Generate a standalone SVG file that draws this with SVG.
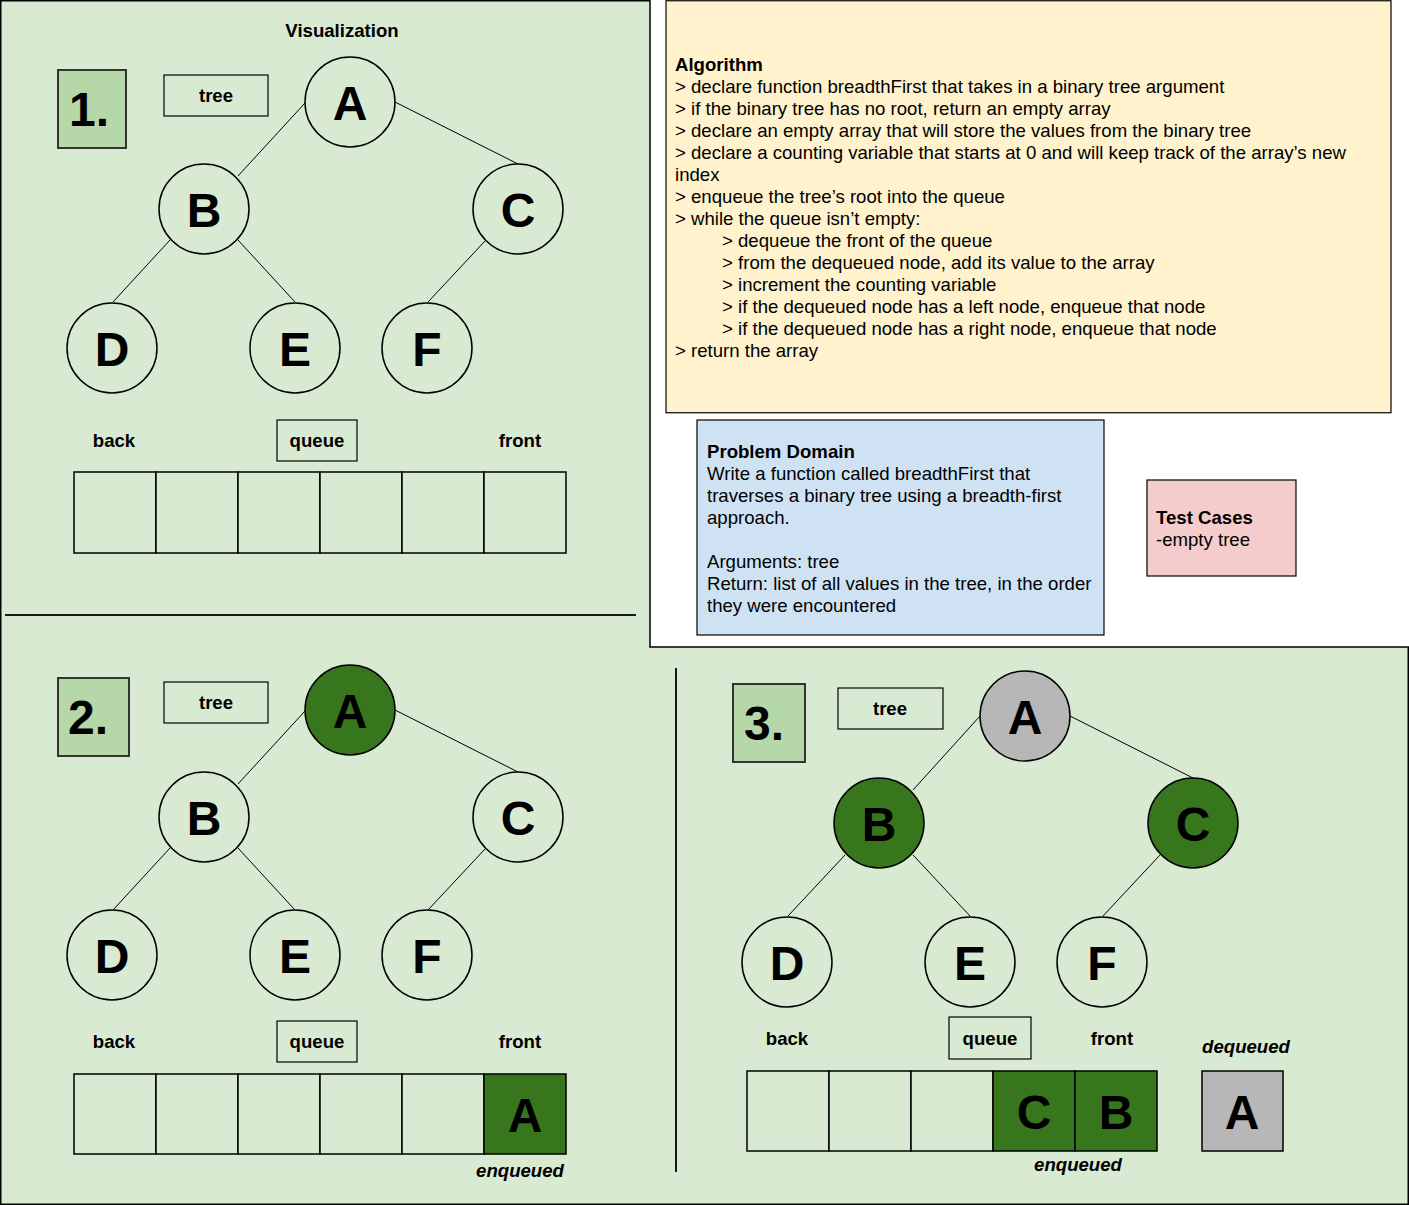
<svg xmlns="http://www.w3.org/2000/svg" width="1409" height="1205" viewBox="0 0 1409 1205">
<style>
text{font-family:"Liberation Sans",Arial,sans-serif;fill:#000}
.bg{fill:#d9ead3;stroke:#000;stroke-width:1.5}
.num{fill:#b6d7a8;stroke:#333;stroke-width:2}
.lbl{fill:none;stroke:#000;stroke-width:1.2}
.nd{fill:#d9ead3;stroke:#000;stroke-width:1.5}
.nd.g{fill:#38761d}
.nd.x{fill:#b7b7b7}
.cell{fill:#d9ead3;stroke:#000;stroke-width:1.5}
.cell.g{fill:#38761d}
.cell.x{fill:#b7b7b7}
.edge{stroke:#000;stroke-width:1;fill:none}
.nt{font-size:48px;font-weight:bold;text-anchor:middle}
.bt{font-size:18.6px;font-weight:bold;text-anchor:middle}
.it{font-size:18.6px;font-weight:bold;font-style:italic;text-anchor:middle}
.nb{font-size:48px;font-weight:bold;text-anchor:middle}
.body{font-size:18.6px}
.hd{font-size:18.6px;font-weight:bold}
</style>
<polygon class="bg" points="0.75,0.75 650,0.75 650,647 1408.25,647 1408.25,1204.25 0.75,1204.25"/>
<line x1="5" y1="615" x2="636" y2="615" stroke="#1a1a1a" stroke-width="2"/>
<line x1="676" y1="668" x2="676" y2="1172" stroke="#1a1a1a" stroke-width="2"/>

<g id="algorithm">
<rect x="666" y="0.75" width="725" height="412" fill="#fff2cc" stroke="#000" stroke-width="1.2"/>
<text class="hd" x="675" y="71">Algorithm</text>
<text class="body" x="675" y="93">&gt; declare function breadthFirst that takes in a binary tree argument</text>
<text class="body" x="675" y="115">&gt; if the binary tree has no root, return an empty array</text>
<text class="body" x="675" y="137">&gt; declare an empty array that will store the values from the binary tree</text>
<text class="body" x="675" y="159">&gt; declare a counting variable that starts at 0 and will keep track of the array’s new</text>
<text class="body" x="675" y="181">index</text>
<text class="body" x="675" y="203">&gt; enqueue the tree’s root into the queue</text>
<text class="body" x="675" y="225">&gt; while the queue isn’t empty:</text>
<text class="body" x="722" y="247">&gt; dequeue the front of the queue</text>
<text class="body" x="722" y="269">&gt; from the dequeued node, add its value to the array</text>
<text class="body" x="722" y="291">&gt; increment the counting variable</text>
<text class="body" x="722" y="313">&gt; if the dequeued node has a left node, enqueue that node</text>
<text class="body" x="722" y="335">&gt; if the dequeued node has a right node, enqueue that node</text>
<text class="body" x="675" y="357">&gt; return the array</text>
</g>

<g id="problem-domain">
<rect x="697" y="420" width="407" height="215" fill="#cfe2f3" stroke="#000" stroke-width="1.2"/>
<text class="hd" x="707" y="458">Problem Domain</text>
<text class="body" x="707" y="480">Write a function called breadthFirst that</text>
<text class="body" x="707" y="502">traverses a binary tree using a breadth-first</text>
<text class="body" x="707" y="524">approach.</text>
<text class="body" x="707" y="568">Arguments: tree</text>
<text class="body" x="707" y="590">Return: list of all values in the tree, in the order</text>
<text class="body" x="707" y="612">they were encountered</text>
</g>

<g id="test-cases">
<rect x="1147" y="480" width="149" height="96" fill="#f4cccc" stroke="#000" stroke-width="1.2"/>
<text class="hd" x="1156" y="524">Test Cases</text>
<text class="body" x="1156" y="546">-empty tree</text>
</g>

<text class="bt" x="342" y="37">Visualization</text>

<g id="connectors">
<line class="edge" x1="305" y1="103" x2="238" y2="176"/>
<line class="edge" x1="395" y1="102" x2="518" y2="164"/>
<line class="edge" x1="170" y1="240" x2="113" y2="302"/>
<line class="edge" x1="238" y1="240" x2="295" y2="302"/>
<line class="edge" x1="485" y1="241" x2="428" y2="302"/>

<line class="edge" x1="305" y1="711" x2="238" y2="784"/>
<line class="edge" x1="395" y1="710" x2="518" y2="772"/>
<line class="edge" x1="170" y1="848" x2="113" y2="910"/>
<line class="edge" x1="238" y1="848" x2="295" y2="910"/>
<line class="edge" x1="485" y1="849" x2="428" y2="910"/>

<line class="edge" x1="980" y1="716" x2="913" y2="790"/>
<line class="edge" x1="1070" y1="716" x2="1193" y2="778"/>
<line class="edge" x1="845" y1="855" x2="788" y2="916"/>
<line class="edge" x1="913" y1="855" x2="970" y2="916"/>
<line class="edge" x1="1160" y1="855" x2="1103" y2="916"/>
</g>

<!-- Panel 1 -->
<g id="p1-num"><rect class="num" x="58" y="70" width="68" height="78"/><text class="nb" x="89" y="126">1.</text></g>
<g id="p1-tree"><rect class="lbl" x="164" y="75" width="104" height="41"/><text class="bt" x="216" y="102">tree</text></g>
<g id="p1-A"><circle class="nd" cx="350" cy="102" r="45"/><text class="nt" x="350" y="120">A</text></g>
<g id="p1-B"><circle class="nd" cx="204" cy="209" r="45"/><text class="nt" x="204" y="227">B</text></g>
<g id="p1-C"><circle class="nd" cx="518" cy="209" r="45"/><text class="nt" x="518" y="227">C</text></g>
<g id="p1-D"><circle class="nd" cx="112" cy="348" r="45"/><text class="nt" x="112" y="366">D</text></g>
<g id="p1-E"><circle class="nd" cx="295" cy="348" r="45"/><text class="nt" x="295" y="366">E</text></g>
<g id="p1-F"><circle class="nd" cx="427" cy="348" r="45"/><text class="nt" x="427" y="366">F</text></g>
<g id="p1-queue">
<text class="bt" x="114" y="447">back</text>
<rect class="lbl" x="277" y="420" width="80" height="41"/><text class="bt" x="317" y="447">queue</text>
<text class="bt" x="520" y="447">front</text>
<rect class="cell" x="74" y="472" width="82" height="81"/>
<rect class="cell" x="156" y="472" width="82" height="81"/>
<rect class="cell" x="238" y="472" width="82" height="81"/>
<rect class="cell" x="320" y="472" width="82" height="81"/>
<rect class="cell" x="402" y="472" width="82" height="81"/>
<rect class="cell" x="484" y="472" width="82" height="81"/>
</g>

<!-- Panel 2 -->
<g id="p2-num"><rect class="num" x="58" y="678" width="71" height="78"/><text class="nb" x="88" y="734">2.</text></g>
<g id="p2-tree"><rect class="lbl" x="164" y="682" width="104" height="41"/><text class="bt" x="216" y="709">tree</text></g>
<g id="p2-A"><circle class="nd g" cx="350" cy="710" r="45"/><text class="nt" x="350" y="728">A</text></g>
<g id="p2-B"><circle class="nd" cx="204" cy="817" r="45"/><text class="nt" x="204" y="835">B</text></g>
<g id="p2-C"><circle class="nd" cx="518" cy="817" r="45"/><text class="nt" x="518" y="835">C</text></g>
<g id="p2-D"><circle class="nd" cx="112" cy="955" r="45"/><text class="nt" x="112" y="973">D</text></g>
<g id="p2-E"><circle class="nd" cx="295" cy="955" r="45"/><text class="nt" x="295" y="973">E</text></g>
<g id="p2-F"><circle class="nd" cx="427" cy="955" r="45"/><text class="nt" x="427" y="973">F</text></g>
<g id="p2-queue">
<text class="bt" x="114" y="1048">back</text>
<rect class="lbl" x="277" y="1021" width="80" height="41"/><text class="bt" x="317" y="1048">queue</text>
<text class="bt" x="520" y="1048">front</text>
<rect class="cell" x="74" y="1074" width="82" height="80"/>
<rect class="cell" x="156" y="1074" width="82" height="80"/>
<rect class="cell" x="238" y="1074" width="82" height="80"/>
<rect class="cell" x="320" y="1074" width="82" height="80"/>
<rect class="cell" x="402" y="1074" width="82" height="80"/>
<rect class="cell g" x="484" y="1074" width="82" height="80"/>
<text class="nt" x="525" y="1132">A</text>
<text class="it" x="520" y="1177">enqueued</text>
</g>

<!-- Panel 3 -->
<g id="p3-num"><rect class="num" x="733" y="684" width="72" height="78"/><text class="nb" x="764" y="740">3.</text></g>
<g id="p3-tree"><rect class="lbl" x="838" y="688" width="105" height="41"/><text class="bt" x="890" y="715">tree</text></g>
<g id="p3-A"><circle class="nd x" cx="1025" cy="716" r="45"/><text class="nt" x="1025" y="734">A</text></g>
<g id="p3-B"><circle class="nd g" cx="879" cy="823" r="45"/><text class="nt" x="879" y="841">B</text></g>
<g id="p3-C"><circle class="nd g" cx="1193" cy="823" r="45"/><text class="nt" x="1193" y="841">C</text></g>
<g id="p3-D"><circle class="nd" cx="787" cy="962" r="45"/><text class="nt" x="787" y="980">D</text></g>
<g id="p3-E"><circle class="nd" cx="970" cy="962" r="45"/><text class="nt" x="970" y="980">E</text></g>
<g id="p3-F"><circle class="nd" cx="1102" cy="962" r="45"/><text class="nt" x="1102" y="980">F</text></g>
<g id="p3-queue">
<text class="bt" x="787" y="1045">back</text>
<rect class="lbl" x="949" y="1017" width="82" height="42"/><text class="bt" x="990" y="1045">queue</text>
<text class="bt" x="1112" y="1045">front</text>
<rect class="cell" x="747" y="1071" width="82" height="80"/>
<rect class="cell" x="829" y="1071" width="82" height="80"/>
<rect class="cell" x="911" y="1071" width="82" height="80"/>
<rect class="cell g" x="993" y="1071" width="82" height="80"/>
<rect class="cell g" x="1075" y="1071" width="82" height="80"/>
<text class="nt" x="1034" y="1129">C</text>
<text class="nt" x="1116" y="1129">B</text>
<text class="it" x="1078" y="1171">enqueued</text>
</g>
<g id="p3-dequeued">
<text class="it" x="1246" y="1053">dequeued</text>
<rect class="cell x" x="1202" y="1071" width="81" height="80"/>
<text class="nt" x="1242" y="1129">A</text>
</g>
</svg>
